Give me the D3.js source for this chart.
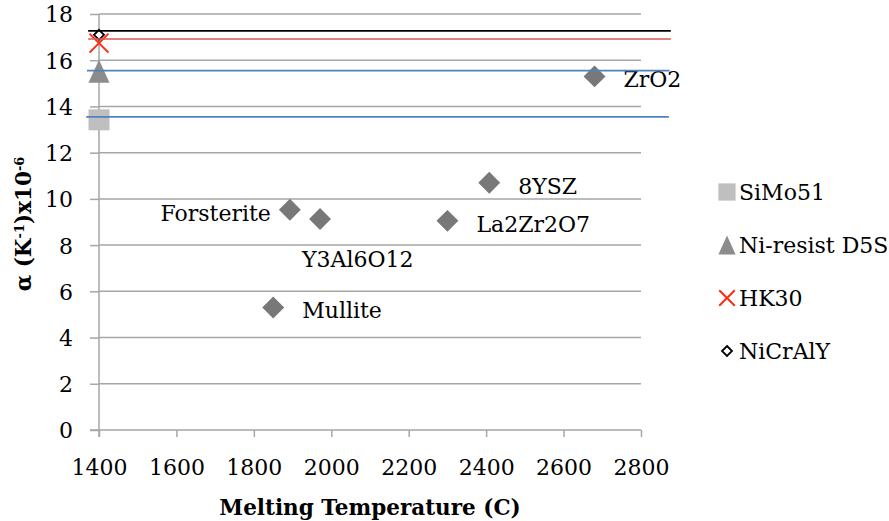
<!DOCTYPE html>
<html><head><meta charset="utf-8">
<script src="https://cdn.jsdelivr.net/npm/d3@7"></script>
<style>body{margin:0;background:#fff}svg{display:block}text{font-family:"DejaVu Serif",serif}</style>
</head><body>
<script>
// Ceramic points (melting temperature, CTE x10^-6)
const ceramicNames = ["ZrO2","8YSZ","La2Zr2O7","Forsterite","Y3Al6O12","Mullite"];
const ceramicTemp  = [2680, 2408, 2300, 1893, 1971, 1850];
const ceramicAlpha = [15.3, 10.7, 9.05, 9.53, 9.13, 5.3];
const labelSide    = ["right","right","right","left","below","right"];

// Metallic series at 1400 C
const metalNames = ["SiMo51","Ni-resist D5S","HK30","NiCrAlY"];
const metalTemp  = [1400, 1400, 1400, 1400];
const metalAlpha = [13.42, 15.52, 16.74, 17.1];

// Horizontal reference lines
const refLineAlpha = [17.27, 16.92, 15.55, 13.55];
const refLineStart = [1372, 1372, 1369, 1367];
const refLineEnd   = [2877, 2877, 2874, 2872];
const refLineColor = ["#000000", "#d9574f", "#4f81bd", "#4f81bd"];

const xTicks = [1400,1600,1800,2000,2200,2400,2600,2800];
const yTicks = [0,2,4,6,8,10,12,14,16,18];

const W = 889, H = 521;
const svg = d3.select("body").append("svg").attr("width", W).attr("height", H);
const x = d3.scaleLinear().domain([1400, 2800]).range([99, 641]);
const y = d3.scaleLinear().domain([0, 18]).range([430, 14]);
const grid = "#a6a6a6";
const fs = 22;

// gridlines
svg.append("g").selectAll("line").data(yTicks.filter(d => d > 0)).join("line")
  .attr("x1", x(1400)).attr("x2", x(2800))
  .attr("y1", d => y(d)).attr("y2", d => y(d))
  .attr("stroke", grid).attr("stroke-width", 1.5);

// y axis
const yAxis = svg.append("g").attr("transform", `translate(${x(1400)},0)`)
  .call(d3.axisLeft(y).tickValues(yTicks).tickSize(9).tickPadding(17));
yAxis.select(".domain").attr("stroke", grid).attr("stroke-width", 1.5).attr("d", `M-0,${y(0)+7}V${y(18)}`);
yAxis.selectAll(".tick line").attr("stroke", grid).attr("stroke-width", 1.5);
yAxis.selectAll(".tick text").attr("font-size", fs).attr("font-family", "DejaVu Serif").attr("fill", "#000").attr("dy", "0.36em");

// x axis
const xAxis = svg.append("g").attr("transform", `translate(0,${y(0)})`)
  .call(d3.axisBottom(x).tickValues(xTicks).tickSize(7).tickFormat(d3.format("d")));
xAxis.select(".domain").attr("stroke", grid).attr("stroke-width", 1.5).attr("d", `M${x(1400)-9},0H${x(2800)}`);
xAxis.selectAll(".tick line").attr("stroke", grid).attr("stroke-width", 1.5);
xAxis.selectAll(".tick text").attr("font-size", fs).attr("font-family", "DejaVu Serif").attr("fill", "#000").attr("y", 45).attr("dy", 0);

// ceramic diamonds
const diamond = d3.symbol().type(d3.symbolSquare).size(240);
const ceramics = ceramicNames.map((n, i) => ({n, t: ceramicTemp[i], a: ceramicAlpha[i], side: labelSide[i]}));
svg.append("g").selectAll("path").data(ceramics).join("path")
  .attr("d", diamond)
  .attr("transform", d => `translate(${x(d.t)},${y(d.a)}) rotate(45)`)
  .attr("fill", "#787878");
svg.append("g").selectAll("text").data(ceramics).join("text")
  .attr("font-size", fs)
  .attr("x", d => d.side === "left" ? x(d.t) - 19 : (d.side === "below" ? x(d.t) - 18 : x(d.t) + 29))
  .attr("y", d => d.side === "below" ? y(d.a) + 40 : y(d.a) + 3)
  .attr("dy", "0.36em")
  .attr("text-anchor", d => d.side === "left" ? "end" : "start")
  .text(d => d.n);

// metal markers
function drawMarker(g, i, cx, cy, small) {
  const s = small ? 0.82 : 1;
  if (i === 0) {
    const h = 10.5 * s;
    g.append("rect").attr("x", cx - h).attr("y", cy - h).attr("width", 2*h).attr("height", 2*h).attr("fill", "#bfbfbf");
  } else if (i === 1) {
    const hw = 10.5 * s, hh = 11.5 * s;
    g.append("path").attr("d", `M${cx},${cy-hh}L${cx+hw},${cy+hh}L${cx-hw},${cy+hh}Z`).attr("fill", "#8c8c8c");
  } else if (i === 2) {
    const h = 9.5 * s;
    g.append("path").attr("d", `M${cx-h},${cy-h}L${cx+h},${cy+h}M${cx-h},${cy+h}L${cx+h},${cy-h}`)
      .attr("stroke", "#ff2a12").attr("stroke-width", 2).attr("fill", "none");
  } else {
    const h = 5;
    g.append("path").attr("d", `M${cx},${cy-h}L${cx+h},${cy}L${cx},${cy+h}L${cx-h},${cy}Z`)
      .attr("stroke", "#000").attr("stroke-width", 1.8).attr("fill", "#fff");
  }
}
const mg = svg.append("g");
metalNames.forEach((n, i) => drawMarker(mg, i, x(metalTemp[i]), y(metalAlpha[i]), false));

// reference lines
svg.append("g").selectAll("line").data(refLineAlpha).join("line")
  .attr("x1", (d, i) => x(refLineStart[i])).attr("x2", (d, i) => x(refLineEnd[i]))
  .attr("y1", d => y(d)).attr("y2", d => y(d))
  .attr("stroke", (d, i) => refLineColor[i]).attr("stroke-width", 1.6);

// legend
const lg = svg.append("g");
metalNames.forEach((n, i) => {
  const cy = 192 + i * 53;
  drawMarker(lg, i, 727, cy, true);
  lg.append("text").attr("x", 739).attr("y", cy).attr("dy", "0.36em").attr("font-size", fs).text(n);
});

// axis titles
svg.append("text").attr("x", 370).attr("y", 515).attr("text-anchor", "middle")
  .attr("font-size", 21.5).attr("font-weight", "bold").text("Melting Temperature (C)");
const yt = svg.append("text").attr("transform", "translate(31,224) rotate(-90)")
  .attr("text-anchor", "middle").attr("font-size", 21.5).attr("font-weight", "bold");
yt.append("tspan").text("α (K");
yt.append("tspan").attr("font-size", 13).attr("baseline-shift", "7").text("-1");
yt.append("tspan").text(")x10");
yt.append("tspan").attr("font-size", 13).attr("baseline-shift", "7").text("-6");
</script>
</body></html>
